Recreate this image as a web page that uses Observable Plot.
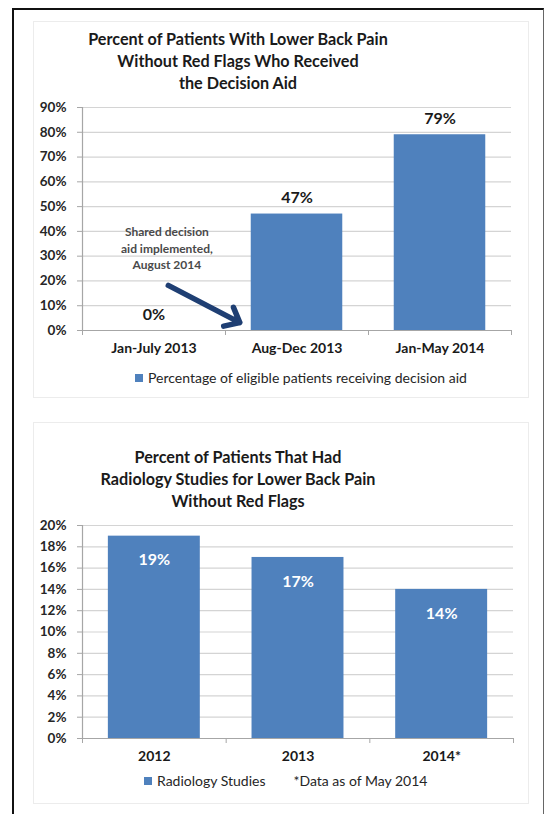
<!DOCTYPE html>
<html>
<head>
<meta charset="utf-8">
<script src="https://cdn.jsdelivr.net/npm/d3@7"></script>
<script src="https://cdn.jsdelivr.net/npm/@observablehq/plot@0.6"></script>
<style>
  html, body { margin: 0; padding: 0; background: #fff; }
  body { width: 548px; height: 814px; position: relative; overflow: hidden; font-family: Lato, "Open Sans", sans-serif; }
  .frame { position: absolute; left: 12px; top: 8px; width: 532px; height: 900px; border: 2px solid #111; border-right: 1.5px solid #666; box-sizing: border-box; }
  .panel { position: absolute; border: 1px solid #ececec; box-sizing: border-box; }
  .title { position: absolute; left: 33px; width: 410px; text-align: center; font-weight: 700; font-size: 16.2px; line-height: 22px; color: #1a1a1a; }
  .chart { position: absolute; left: 0; }
  .legend { position: absolute; font-size: 14px; color: #262626; white-space: nowrap; display: flex; align-items: center; }
  .sw { display: inline-block; width: 8px; height: 8px; background: #4f81bd; margin-right: 5px; }
</style>
</head>
<body>
<div class="frame"></div>
<div class="panel" style="left:33px; top:21px; width:496px; height:377px;"></div>
<div class="panel" style="left:33px; top:422px; width:496px; height:382px;"></div>

<div class="title" id="t1" style="top:28px;"></div>
<div class="chart" id="c1" style="top:95px;"></div>
<div class="legend" id="l1" style="left:135px; top:369px;"></div>

<div class="title" id="t2" style="top:446px;"></div>
<div class="chart" id="c2" style="top:515px;"></div>
<div class="legend" id="l2" style="left:144px; top:772px;"></div>

<script>
// ---------- data ----------
const title1 = ["Percent of Patients With Lower Back Pain", "Without Red Flags Who Received", "the Decision Aid"];
const categories1 = ["Jan-July 2013", "Aug-Dec 2013", "Jan-May 2014"];
const values1 = [0, 0.47, 0.79];
const yTicks1 = [0, 0.1, 0.2, 0.3, 0.4, 0.5, 0.6, 0.7, 0.8, 0.9];
const legend1 = "Percentage of eligible patients receiving decision aid";
const noteText = ["Shared decision", "aid implemented,", "August 2014"];
const noteAt = [{x: 0.09, y: 0.335}];
const noteArrow = [{x1: 0.1, y1: 0.182, x2: 0.6, y2: 0.032}];

const title2 = ["Percent of Patients That Had", "Radiology Studies for Lower Back Pain", "Without Red Flags"];
const categories2 = ["2012", "2013", "2014*"];
const values2 = [0.19, 0.17, 0.14];
const yTicks2 = [0, 0.02, 0.04, 0.06, 0.08, 0.10, 0.12, 0.14, 0.16, 0.18, 0.20];
const legend2 = "Radiology Studies";
const legend2Note = "*Data as of May 2014";

// ---------- helpers ----------
const BLUE = "#4f81bd";
const halfBar = 0.32;
const pct = d3.format(".0%");

function build(cats, vals, ticks, ymax, opts) {
  const data = cats.map((c, i) => ({cat: c, i, v: vals[i]}));
  const bounds = d3.range(cats.length + 1).map(k => k - 0.5);
  const marks = [
    Plot.gridY(ticks, {stroke: "#d4d4d4", strokeOpacity: 1, strokeWidth: 1.2}),
    Plot.rectY(data, {x1: d => d.i - halfBar, x2: d => d.i + halfBar, y1: 0, y2: "v", fill: BLUE}),
    Plot.ruleX([-0.5], {y1: 0, y2: ymax, stroke: "#a6a6a6", strokeWidth: 1.2}),
    Plot.ruleY([0], {stroke: "#a6a6a6", strokeWidth: 1.2}),
    Plot.axisY({ticks, tickFormat: pct, tickSize: 5, tickPadding: 11, label: null, stroke: "#a6a6a6", fontSize: 13.5, fontWeight: 700, fill: "#262626"}),
    Plot.axisX({ticks: bounds, tickFormat: () => "", tickSize: 5, label: null, stroke: "#a6a6a6"}),
    Plot.axisX({ticks: data.map(d => d.i), tickFormat: i => cats[i], tickSize: 0, tickPadding: 13, label: null, fontSize: 14, fontWeight: 700, fill: "#1a1a1a"}),
    Plot.text(data, {x: "i", y: "v", text: d => pct(d.v), dy: opts.labelDy, fontSize: 16, fontWeight: 700, fill: opts.labelFill})
  ];
  return marks;
}

// ---------- chart 1 ----------
document.getElementById("t1").innerHTML = title1.join("<br>");
const marks1 = build(categories1, values1, yTicks1, 0.9, {labelDy: -16, labelFill: "#1a1a1a"});
marks1.push(
  Plot.text(noteAt, {x: "x", y: "y", text: () => noteText.join("\n"), lineHeight: 1.35, fontSize: 12, fontWeight: 700, fill: "#4a4a4a"}),
  Plot.arrow(noteArrow, {x1: "x1", y1: "y1", x2: "x2", y2: "y2", stroke: "#1f3f73", strokeWidth: 5.5, headLength: 4.5, headAngle: 80, bend: 0})
);
const chart1 = Plot.plot({
  width: 548, height: 270,
  marginTop: 12, marginBottom: 35, marginLeft: 82, marginRight: 37,
  x: {domain: [-0.5, categories1.length - 0.5], axis: null},
  y: {domain: [0, 0.9], axis: null},
  style: {fontFamily: "Lato, sans-serif", background: "transparent", overflow: "visible"},
  marks: marks1
});
document.getElementById("c1").appendChild(chart1);
document.getElementById("l1").innerHTML = `<span class="sw"></span><span>${legend1}</span>`;

// ---------- chart 2 ----------
document.getElementById("t2").innerHTML = title2.join("<br>");
const chart2 = Plot.plot({
  width: 548, height: 255,
  marginTop: 10, marginBottom: 32, marginLeft: 82, marginRight: 35,
  x: {domain: [-0.5, categories2.length - 0.5], axis: null},
  y: {domain: [0, 0.2], axis: null},
  style: {fontFamily: "Lato, sans-serif", background: "transparent", overflow: "visible"},
  marks: build(categories2, values2, yTicks2, 0.2, {labelDy: 24, labelFill: "#ffffff"})
});
document.getElementById("c2").appendChild(chart2);
document.getElementById("l2").innerHTML = `<span class="sw"></span><span>${legend2}</span><span style="margin-left:28px">${legend2Note}</span>`;
</script>
</body>
</html>
